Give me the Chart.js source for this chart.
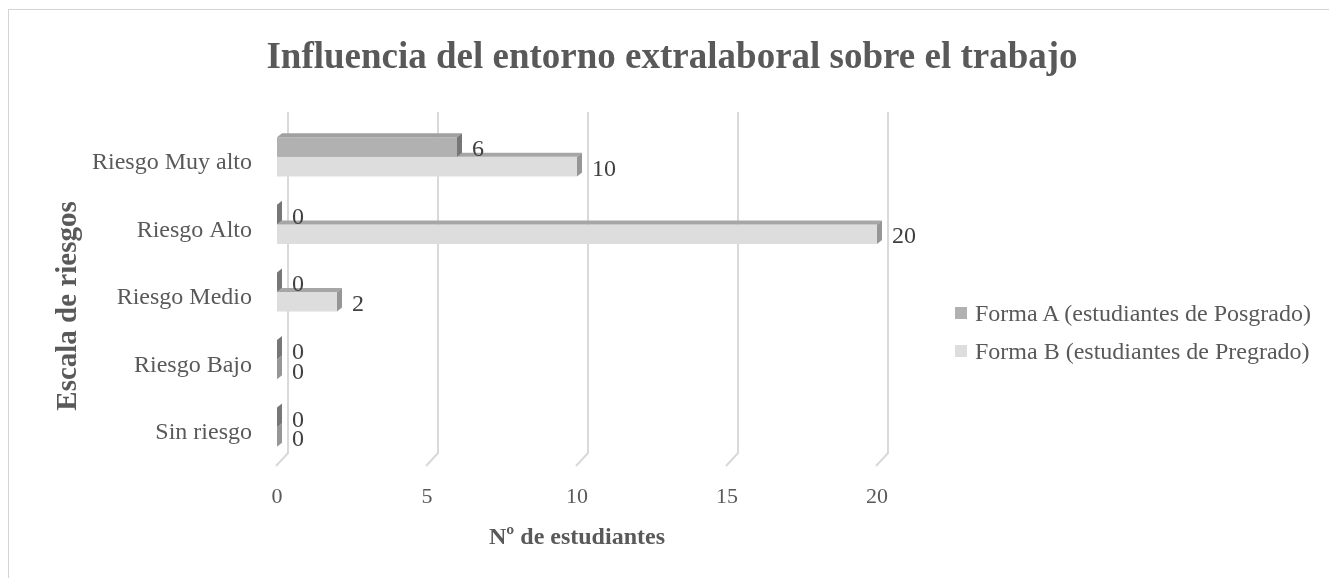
<!DOCTYPE html>
<html>
<head>
<meta charset="utf-8">
<script src="https://cdn.jsdelivr.net/npm/chart.js@4.4.0/dist/chart.umd.min.js"></script>
<style>
  html, body { margin: 0; padding: 0; background: #fff; overflow: hidden; }
  #wrap { position: relative; width: 1329px; height: 578px; overflow: hidden; }
  #frame { position: absolute; left: 8px; top: 9px; width: 1400px; height: 700px;
           border: 1px solid #d4d4d4; pointer-events: none; }
  #legend { position: absolute; left: 955px; top: 294px;
            font-family: "Liberation Serif", "Times New Roman", serif; font-size: 24px; color: #595959; }
  #legend .item { display: flex; align-items: center; height: 38px; white-space: nowrap; }
  #legend .swatch { width: 12px; height: 12px; margin-right: 8px; }
</style>
</head>
<body>
<div id="wrap">
  <canvas id="chart" width="1329" height="578"></canvas>
  <div id="legend"></div>
  <div id="frame"></div>
</div>
<script>
// Data
const categories = ['Riesgo Muy alto', 'Riesgo Alto', 'Riesgo Medio', 'Riesgo Bajo', 'Sin riesgo'];
const formaA = [6, 0, 0, 0, 0];
const formaB = [10, 20, 2, 0, 0];
const xTicks = [0, 5, 10, 15, 20];
const seriesNames = ['Forma A (estudiantes de Posgrado)', 'Forma B (estudiantes de Pregrado)'];

// Colours per series: front, top face, end face
const frontColors = ['#b1b1b1', '#dddddd'];
const topColors = ['#a0a0a0', '#a6a6a6'];
const sideColors = ['#777777', '#969696'];

const FONT = '"Liberation Serif", "Times New Roman", serif';
const TEXT = '#595959';
const DEPTH_X = 5, DEPTH_Y = -4;

// Back wall gridlines with the slanted floor edge
const wallGrid = {
  id: 'wallGrid',
  beforeDatasetsDraw(chart) {
    const { ctx, chartArea, scales } = chart;
    ctx.save();
    ctx.strokeStyle = '#d9d9d9';
    ctx.lineWidth = 2;
    xTicks.forEach(v => {
      const x = scales.x.getPixelForValue(v);
      ctx.beginPath();
      ctx.moveTo(x + 11, chartArea.top - 11);
      ctx.lineTo(x + 11, chartArea.bottom - 8);
      ctx.lineTo(x - 1, chartArea.bottom + 5);
      ctx.stroke();
    });
    ctx.restore();
  }
};

// Top and end faces so the bars look like boxes
const barDepth = {
  id: 'barDepth',
  afterDatasetDraw(chart, args) {
    const ctx = chart.ctx;
    const i = args.index;
    ctx.save();
    args.meta.data.forEach(bar => {
      const top = bar.y - bar.height / 2;
      const bottom = bar.y + bar.height / 2;
      ctx.fillStyle = topColors[i];
      ctx.beginPath();
      ctx.moveTo(bar.base, top);
      ctx.lineTo(bar.x, top);
      ctx.lineTo(bar.x + DEPTH_X, top + DEPTH_Y);
      ctx.lineTo(bar.base + DEPTH_X, top + DEPTH_Y);
      ctx.closePath();
      ctx.fill();

      ctx.fillStyle = sideColors[i];
      ctx.beginPath();
      ctx.moveTo(bar.x, top);
      ctx.lineTo(bar.x + DEPTH_X, top + DEPTH_Y);
      ctx.lineTo(bar.x + DEPTH_X, bottom + DEPTH_Y);
      ctx.lineTo(bar.x, bottom);
      ctx.closePath();
      ctx.fill();
    });
    ctx.restore();
  }
};

// Value labels at the end of each bar, plus the vertical axis title
const valueLabels = {
  id: 'valueLabels',
  afterDatasetsDraw(chart) {
    const { ctx, chartArea } = chart;
    ctx.save();
    ctx.font = '24px ' + FONT;
    ctx.fillStyle = '#404040';
    ctx.textAlign = 'left';
    ctx.textBaseline = 'middle';
    chart.data.datasets.forEach((ds, d) => {
      chart.getDatasetMeta(d).data.forEach((bar, j) => {
        ctx.fillText(String(ds.data[j]), bar.x + DEPTH_X + 10, bar.y + 3);
      });
    });

    ctx.translate(69, (chartArea.top + chartArea.bottom) / 2 + 14);
    ctx.rotate(-Math.PI / 2);
    ctx.font = 'bold 29px ' + FONT;
    ctx.fillStyle = TEXT;
    ctx.textAlign = 'center';
    ctx.fillText('Escala de riesgos', 0, 0);
    ctx.restore();
  }
};

new Chart(document.getElementById('chart'), {
  type: 'bar',
  data: {
    labels: categories,
    datasets: [
      { label: seriesNames[0], data: formaA, backgroundColor: frontColors[0], borderWidth: 0,
        categoryPercentage: 0.58, barPercentage: 1.0 },
      { label: seriesNames[1], data: formaB, backgroundColor: frontColors[1], borderWidth: 0,
        categoryPercentage: 0.58, barPercentage: 1.0 }
    ]
  },
  options: {
    indexAxis: 'y',
    responsive: false,
    animation: false,
    devicePixelRatio: 1,
    layout: { padding: { left: 15, right: 0, top: 0, bottom: 0 } },
    plugins: {
      legend: { display: false },
      tooltip: { enabled: false },
      title: {
        display: true,
        text: 'Influencia del entorno extralaboral sobre el trabajo',
        color: TEXT,
        font: { family: FONT, size: 37, weight: 'bold' },
        padding: { top: 36, bottom: 42.6 }
      }
    },
    scales: {
      x: {
        type: 'linear',
        min: 0,
        max: 20,
        afterBuildTicks: s => { s.ticks = xTicks.map(v => ({ value: v })); },
        ticks: { color: TEXT, font: { family: FONT, size: 22 }, padding: 23 },
        grid: { display: false, drawTicks: false },
        border: { display: false },
        title: {
          display: true,
          text: 'Nº de estudiantes',
          color: TEXT,
          font: { family: FONT, size: 24, weight: 'bold' },
          padding: { top: 0, bottom: 25.6 }
        },
        afterFit: s => { s.height = 117; }
      },
      y: {
        type: 'category',
        ticks: { color: TEXT, font: { family: FONT, size: 24 }, padding: 25, labelOffset: 6 },
        grid: { display: false, drawTicks: false },
        border: { display: false },
        afterFit: s => { s.width = 262; }
      },
      side: {
        type: 'linear',
        position: 'right',
        ticks: { display: false },
        grid: { display: false, drawTicks: false },
        border: { display: false },
        afterFit: s => { s.width = 452; }
      }
    }
  },
  plugins: [wallGrid, barDepth, valueLabels]
});

// Legend
const legend = document.getElementById('legend');
seriesNames.forEach((name, i) => {
  const row = document.createElement('div');
  row.className = 'item';
  row.innerHTML = `<span class="swatch" style="background:${frontColors[i]}"></span><span>${name}</span>`;
  legend.appendChild(row);
});
</script>
</body>
</html>
